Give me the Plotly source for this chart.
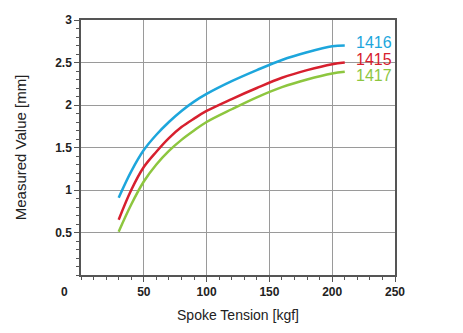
import plotly.graph_objects as go

tension = [30, 40, 50, 60, 70, 80, 90, 100, 120, 140, 160, 180, 200, 210]
s1416 = [0.91, 1.22, 1.47, 1.65, 1.80, 1.93, 2.04, 2.13, 2.28, 2.41, 2.53, 2.62, 2.69, 2.70]
s1415 = [0.65, 1.00, 1.27, 1.45, 1.61, 1.74, 1.84, 1.93, 2.07, 2.20, 2.32, 2.41, 2.48, 2.50]
s1417 = [0.51, 0.83, 1.10, 1.30, 1.46, 1.59, 1.70, 1.80, 1.95, 2.09, 2.21, 2.30, 2.37, 2.39]
names = ["1416", "1415", "1417"]
colors = ["#1da6dc", "#d7202e", "#8dc63f"]
label_y = [2.74, 2.54, 2.35]

x_ticks = [50, 100, 150, 200, 250]
y_ticks = [0.5, 1, 1.5, 2, 2.5, 3]

fig = go.Figure()
for name, ys, c in zip(names, [s1416, s1415, s1417], colors):
    fig.add_trace(go.Scatter(x=tension, y=ys, mode="lines", name=name,
                             line=dict(color=c, width=2.5, shape="spline"),
                             showlegend=False))

for name, c, ly in zip(names, colors, label_y):
    fig.add_annotation(x=217, y=ly, xref="x", yref="y", text=name, showarrow=False,
                       xanchor="left", yanchor="middle",
                       font=dict(family="Liberation Sans, Arial", size=16, color=c))

fig.add_annotation(x=-0.052, y=-0.066, xref="paper", yref="paper", text="0", showarrow=False,
                   xanchor="center", yanchor="middle",
                   font=dict(family="Liberation Sans, Arial", size=12, color="#222", weight="bold"))

axis_common = dict(showgrid=True, gridcolor="#9a9a9a", gridwidth=1,
                   showline=True, linecolor="#555", linewidth=1.5, mirror=True,
                   ticks="outside", ticklen=5, tickcolor="#555", zeroline=False,
                   tickfont=dict(family="Liberation Sans, Arial", size=12, color="#222", weight="bold"))

fig.update_xaxes(range=[0, 250], tickvals=x_ticks, ticktext=[str(v) for v in x_ticks],
                 minor=dict(dtick=10, ticks="outside", ticklen=3, tickcolor="#555", showgrid=False, tick0=0),
                 title=dict(text="Spoke Tension [kgf]", standoff=12,
                            font=dict(family="Liberation Sans, Arial", size=14, color="#222")),
                 **axis_common)
fig.update_yaxes(range=[0, 3], tickvals=y_ticks, ticktext=["0.5", "1", "1.5", "2", "2.5", "3"],
                 minor=dict(dtick=0.1, ticks="outside", ticklen=3, tickcolor="#555", showgrid=False, tick0=0),
                 title=dict(text="Measured Value [mm]", standoff=25,
                            font=dict(family="Liberation Sans, Arial", size=15, color="#222")),
                 **axis_common)

fig.update_layout(width=463, height=333, margin=dict(l=81, r=68, t=20, b=53),
                  paper_bgcolor="white", plot_bgcolor="white")

fig.write_html("out.html")
